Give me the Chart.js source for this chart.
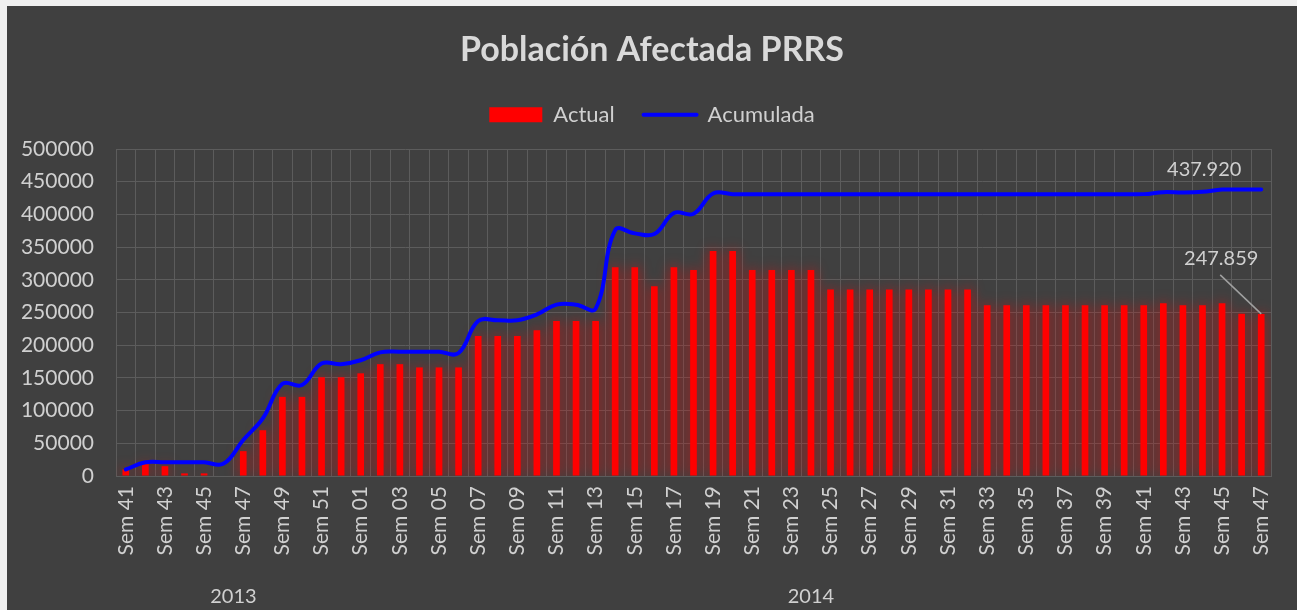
<!DOCTYPE html>
<html lang="es">
<head>
<meta charset="utf-8">
<title>Población Afectada PRRS</title>
<script src="https://cdn.jsdelivr.net/npm/chart.js@4.4.1/dist/chart.umd.min.js"></script>
<style>
  html, body { margin: 0; padding: 0; background: #f0f0f0; overflow: hidden; }
  #wrap { position: absolute; left: 7px; top: 6px; width: 1290px; height: 604px; background: #404040; }
</style>
</head>
<body>
<div id="wrap"><canvas id="prrsChart"></canvas></div>
<script>
// weeks: 2013 (Sem 41 - Sem 52) then 2014 (Sem 01 - Sem 47)
const weekLabels = [
  'Sem 41', 'Sem 42', 'Sem 43', 'Sem 44', 'Sem 45', 'Sem 46', 'Sem 47', 'Sem 48', 'Sem 49', 'Sem 50', 'Sem 51', 'Sem 52',
  'Sem 01', 'Sem 02', 'Sem 03', 'Sem 04', 'Sem 05', 'Sem 06', 'Sem 07', 'Sem 08', 'Sem 09', 'Sem 10',
  'Sem 11', 'Sem 12', 'Sem 13', 'Sem 14', 'Sem 15', 'Sem 16', 'Sem 17', 'Sem 18', 'Sem 19', 'Sem 20',
  'Sem 21', 'Sem 22', 'Sem 23', 'Sem 24', 'Sem 25', 'Sem 26', 'Sem 27', 'Sem 28', 'Sem 29', 'Sem 30',
  'Sem 31', 'Sem 32', 'Sem 33', 'Sem 34', 'Sem 35', 'Sem 36', 'Sem 37', 'Sem 38', 'Sem 39', 'Sem 40',
  'Sem 41', 'Sem 42', 'Sem 43', 'Sem 44', 'Sem 45', 'Sem 46', 'Sem 47'
];
const yearLabels = ['2013', '2014'];
const yearSizes = [12, 47];

const actualData = [
  10000, 18000, 15000, 4000, 4000, 0, 38000, 70000, 121000, 121000, 151000, 151000,
  157000, 171000, 171000, 166000, 166000, 166000, 214000, 214000, 214000, 223000,
  237000, 237000, 237000, 319000, 319000, 290000, 319000, 315000, 344000, 344000,
  315000, 315000, 315000, 315000, 285000, 285000, 285000, 285000, 285000, 285000,
  285000, 285000, 261000, 261000, 261000, 261000, 261000, 261000, 261000, 261000,
  261000, 264000, 261000, 261000, 264000, 248000, 247859
];
const cumulativeData = [
  10000, 21000, 21000, 21000, 21000, 19000, 55000, 88000, 141000, 139000, 172000, 171000,
  177000, 189000, 190000, 190000, 190000, 188000, 237000, 238000, 238000, 247000,
  262000, 262000, 256000, 376000, 371000, 370000, 402000, 401000, 432000, 431000,
  431000, 431000, 431000, 431000, 431000, 431000, 431000, 431000, 431000, 431000,
  431000, 431000, 431000, 431000, 431000, 431000, 431000, 431000, 431000, 431000,
  431000, 434000, 433500, 434500, 438000, 437900, 437920
];
const yTickValues = [0, 50000, 100000, 150000, 200000, 250000, 300000, 350000, 400000, 450000, 500000];

const textColor = '#d0d0d0';
const gridColor = '#5c5c5c';
const fontFamily = 'Lato, "Open Sans", sans-serif';

function fmtEs(v) {
  return String(v).replace(/\B(?=(\d{3})+(?!\d))/g, '.');
}

// red glow round the bars
const barGlow = {
  id: 'barGlow',
  beforeDatasetDraw(chart, args) {
    if (args.index !== 0) return;
    const ctx = chart.ctx;
    ctx.save();
    ctx.shadowColor = 'rgba(255, 0, 0, 0.7)';
    ctx.shadowBlur = 13;
  },
  afterDatasetDraw(chart, args) {
    if (args.index !== 0) return;
    chart.ctx.restore();
  }
};

// second level of the category axis (years)
const yearAxis = {
  id: 'yearAxis',
  afterDraw(chart) {
    const ctx = chart.ctx;
    const x = chart.scales.x;
    let start = 0;
    ctx.save();
    ctx.fillStyle = textColor;
    ctx.font = '20px ' + fontFamily;
    ctx.textAlign = 'center';
    ctx.textBaseline = 'middle';
    yearLabels.forEach((year, i) => {
      const end = start + yearSizes[i] - 1;
      const cx = (x.getPixelForValue(start) + x.getPixelForValue(end)) / 2;
      ctx.fillText(year, cx, chart.chartArea.bottom + 121);
      start = end + 1;
    });
    ctx.restore();
  }
};

// value labels on the last week
const lastLabels = {
  id: 'lastLabels',
  afterDatasetsDraw(chart) {
    const ctx = chart.ctx;
    const barEl = chart.getDatasetMeta(0).data[actualData.length - 1];
    const lineEl = chart.getDatasetMeta(1).data[cumulativeData.length - 1];
    ctx.save();
    ctx.font = '20px ' + fontFamily;
    ctx.fillStyle = textColor;
    ctx.textAlign = 'center';
    ctx.textBaseline = 'middle';
    ctx.fillText(fmtEs(cumulativeData[cumulativeData.length - 1]), lineEl.x - 57, lineEl.y - 20);
    ctx.fillText(fmtEs(actualData[actualData.length - 1]), barEl.x - 40, barEl.y - 55);
    ctx.strokeStyle = '#a0a0a0';
    ctx.lineWidth = 1.5;
    ctx.beginPath();
    ctx.moveTo(barEl.x - 41, barEl.y - 39);
    ctx.lineTo(barEl.x, barEl.y);
    ctx.stroke();
    ctx.restore();
  }
};

const ctx = document.getElementById('prrsChart').getContext('2d');
new Chart(ctx, {
  type: 'bar',
  data: {
    labels: weekLabels,
    datasets: [
      {
        label: 'Actual',
        data: actualData,
        backgroundColor: '#ff0000',
        borderWidth: 0,
        categoryPercentage: 1,
        barPercentage: 0.34,
        order: 1
      },
      {
        type: 'line',
        label: 'Acumulada',
        data: cumulativeData,
        borderColor: '#0000ff',
        backgroundColor: '#0000ff',
        borderWidth: 4,
        borderCapStyle: 'round',
        pointRadius: 0,
        tension: 0.4,
        order: 0
      }
    ]
  },
  options: {
    responsive: true,
    maintainAspectRatio: false,
    animation: false,
    layout: { padding: 0 },
    scales: {
      x: {
        grid: { color: gridColor, drawTicks: false },
        border: { color: gridColor },
        ticks: {
          color: textColor,
          font: { family: fontFamily, size: 21 },
          autoSkip: false,
          maxRotation: 90,
          minRotation: 90,
          padding: 10,
          callback: (val, i) => (i % 2 === 0 ? weekLabels[i] : '')
        },
        afterFit: s => { s.height = 134; }
      },
      y: {
        min: 0,
        max: 500000,
        grid: { color: gridColor, drawTicks: false },
        border: { color: gridColor },
        ticks: {
          color: textColor,
          font: { family: fontFamily, size: 21 },
          padding: 22,
          callback: v => String(v)
        },
        afterBuildTicks: s => { s.ticks = yTickValues.map(v => ({ value: v })); },
        afterFit: s => { s.width = 109; }
      },
      // empty right-hand axis: only a gap after the plot, title stays centred
      gap: {
        position: 'right',
        display: true,
        grid: { display: false },
        border: { display: false },
        ticks: { display: false },
        afterFit: s => { s.width = 26; }
      }
    },
    plugins: {
      title: {
        display: true,
        text: 'Población Afectada PRRS',
        color: '#d9d9d9',
        font: { family: fontFamily, size: 34, weight: 'bold' },
        padding: { top: 24, bottom: 21 }
      },
      // empty box under the legend, only to keep space above the plot
      subtitle: {
        display: true,
        text: '',
        weight: 500,
        font: { size: 1 },
        padding: { top: 0, bottom: 12 }
      },
      legend: {
        labels: {
          color: textColor,
          font: { family: fontFamily, size: 22 },
          usePointStyle: true,
          pointStyleWidth: 53,
          boxHeight: 15,
          padding: 12,
          generateLabels: chart => {
            const items = Chart.defaults.plugins.legend.labels.generateLabels(chart);
            items.forEach(it => {
              if (it.datasetIndex === 0) {
                it.pointStyle = 'rect';
                it.lineWidth = 0;
                it.text = it.text + '   ';
              } else {
                it.pointStyle = 'line';
                it.lineWidth = 4;
                it.lineCap = 'round';
              }
            });
            return items.sort((a, b) => a.datasetIndex - b.datasetIndex);
          }
        }
      },
      tooltip: { enabled: false }
    }
  },
  plugins: [barGlow, yearAxis, lastLabels]
});
</script>
</body>
</html>
